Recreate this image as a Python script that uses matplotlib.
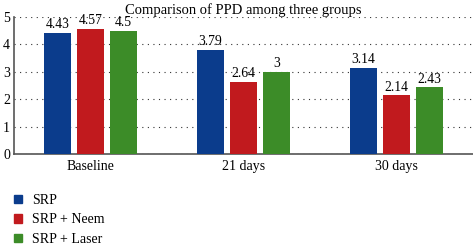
import numpy as np
import matplotlib.pyplot as plt
from matplotlib.patches import Patch

plt.rcParams['font.family'] = ['Liberation Serif', 'DejaVu Serif']

groups = ['Baseline', '21 days', '30 days']
series = ['SRP', 'SRP + Neem', 'SRP + Laser']
srp = [4.43, 3.79, 3.14]
neem = [4.57, 2.64, 2.14]
laser = [4.5, 3, 2.43]
labels = [['4.43', '3.79', '3.14'], ['4.57', '2.64', '2.14'], ['4.5', '3', '2.43']]
colors = ['#0b3c8c', '#c11a1e', '#3c8c28']

fig = plt.figure(figsize=(4.73, 2.45), dpi=100)
ax = fig.add_axes([0.03, 0.371, 0.97, 0.56])

x = np.arange(len(groups))
w = 0.176
step = 0.216
for i, vals in enumerate([srp, neem, laser]):
    pos = x + (i - 1) * step
    ax.bar(pos, vals, width=w, color=colors[i], zorder=3)
    for p, v, t in zip(pos, vals, labels[i]):
        ax.text(p, v + 0.06, t, ha='center', va='bottom', fontsize=9.8, zorder=4)

ax.set_xlim(-0.5, 2.5)
ax.set_ylim(0, 5)
ax.set_yticks(range(6))
ax.set_xticks(x)
ax.set_xticklabels(groups, fontsize=10)
ax.tick_params(axis='y', labelsize=10, length=0, pad=3)
ax.tick_params(axis='x', length=0, pad=4)
ax.yaxis.grid(True, linestyle=(0, (1, 4)), color='#333333', linewidth=0.8)
ax.set_axisbelow(True)
for s in ['top', 'right']:
    ax.spines[s].set_visible(False)
for s in ['left', 'bottom']:
    ax.spines[s].set_color('#555555')
    ax.spines[s].set_linewidth(1.2)
ax.set_title('Comparison of PPD among three groups', fontsize=10.5, pad=1)

handles = [Patch(color=c) for c in colors]
fig.legend(handles, series, loc='upper left', bbox_to_anchor=(0.018, 0.232),
           frameon=False, fontsize=10, handlelength=0.55, handleheight=0.55,
           handletextpad=0.75, labelspacing=0.48, borderaxespad=0)

fig.savefig('out.png', dpi=100)
